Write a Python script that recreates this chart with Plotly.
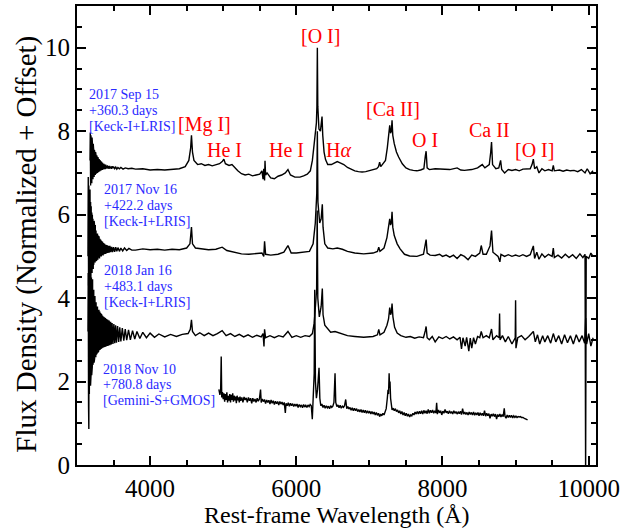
import plotly.graph_objects as go

# ---------------- data: (wavelength, flux) ----------------
spec_sep15 = [
    (3178, 7.30), (3182, 7.97), (3186, 6.70), (3190, 7.90), (3194, 6.80), (3198, 7.70), (3202, 6.75), (3206, 7.85),
    (3210, 6.95), (3214, 7.60), (3218, 6.85), (3222, 7.70), (3226, 6.95), (3230, 7.50), (3234, 6.90), (3238, 7.55),
    (3242, 7.00), (3246, 7.45), (3250, 6.95), (3254, 7.50), (3258, 7.05), (3262, 7.40), (3266, 6.98), (3270, 7.42),
    (3274, 7.05), (3278, 7.35), (3282, 7.00), (3286, 7.38), (3290, 7.06), (3294, 7.30), (3298, 7.02), (3302, 7.33),
    (3306, 7.08), (3310, 7.28), (3314, 7.04), (3318, 7.30), (3322, 7.08), (3326, 7.25), (3330, 7.06), (3334, 7.27),
    (3338, 7.09), (3342, 7.22), (3346, 7.07), (3350, 7.24), (3355, 7.10), (3360, 7.20), (3365, 7.08), (3370, 7.22),
    (3375, 7.10), (3380, 7.18), (3386, 7.09), (3392, 7.20), (3398, 7.11), (3404, 7.17), (3410, 7.10), (3417, 7.18),
    (3424, 7.11), (3431, 7.16), (3438, 7.10), (3446, 7.17), (3454, 7.11), (3462, 7.15), (3470, 7.10), (3480, 7.16),
    (3490, 7.11), (3500, 7.15), (3515, 7.10), (3530, 7.14), (3545, 7.09), (3560, 7.13), (3580, 7.10), (3600, 7.13),
    (3630, 7.09), (3660, 7.12), (3700, 7.10), (3750, 7.11), (3800, 7.09), (3900, 7.10), (4000, 7.07), (4100, 7.08),
    (4200, 7.07), (4300, 7.09), (4400, 7.10), (4480, 7.15), (4530, 7.30), (4555, 7.60), (4566, 7.90), (4580, 7.50),
    (4600, 7.30), (4650, 7.20), (4700, 7.22), (4750, 7.18), (4800, 7.20), (4850, 7.17), (4900, 7.20), (4950, 7.22),
    (4990, 7.28), (5009, 7.33), (5030, 7.22), (5080, 7.18), (5120, 7.20), (5160, 7.12), (5200, 7.05), (5250, 6.98),
    (5300, 6.95), (5350, 6.97), (5400, 6.93), (5450, 6.95), (5500, 6.97), (5530, 7.05), (5545, 6.85), (5555, 7.10),
    (5566, 6.82), (5572, 7.29), (5580, 6.95), (5600, 7.00), (5650, 6.88), (5700, 6.86), (5750, 6.92), (5800, 6.95),
    (5850, 7.00), (5886, 7.08), (5920, 6.95), (5980, 6.90), (6050, 6.90), (6100, 6.93), (6150, 6.97), (6192, 7.05),
    (6220, 7.30), (6245, 7.70), (6262, 8.00), (6275, 8.20), (6282, 8.60), (6288, 10.0), (6294, 8.60), (6310, 8.05),
    (6330, 8.00), (6345, 8.20), (6352, 8.35), (6362, 7.90), (6380, 7.50), (6400, 7.32), (6430, 7.20), (6480, 7.20),
    (6530, 7.25), (6560, 7.27), (6600, 7.24), (6650, 7.20), (6700, 7.13), (6750, 7.08), (6800, 7.05), (6850, 7.03),
    (6900, 7.02), (6950, 7.03), (7000, 7.05), (7050, 7.07), (7100, 7.10), (7125, 7.15), (7140, 7.26), (7155, 7.15),
    (7180, 7.20), (7220, 7.30), (7245, 7.60), (7265, 7.90), (7278, 8.14), (7290, 7.95), (7300, 8.00), (7310, 8.26),
    (7320, 7.90), (7340, 7.70), (7370, 7.50), (7400, 7.38), (7450, 7.22), (7500, 7.12), (7550, 7.08), (7600, 7.06),
    (7650, 7.05), (7700, 7.07), (7745, 7.10), (7765, 7.40), (7776, 7.52), (7790, 7.12), (7820, 7.08), (7900, 7.10),
    (8000, 7.09), (8100, 7.08), (8200, 7.12), (8250, 7.07), (8300, 7.06), (8400, 7.08), (8480, 7.12), (8520, 7.18),
    (8544, 7.20), (8580, 7.12), (8640, 7.20), (8660, 7.50), (8671, 7.74), (8685, 7.20), (8730, 7.10), (8770, 7.12),
    (8795, 7.30), (8810, 7.08), (8850, 7.00), (8900, 7.08), (8950, 7.06), (9000, 7.08), (9050, 7.05), (9100, 7.09),
    (9150, 7.10), (9200, 7.10), (9225, 7.20), (9243, 7.33), (9260, 7.10), (9290, 7.15), (9320, 7.00), (9360, 7.10),
    (9400, 7.05), (9450, 7.08), (9500, 7.05), (9516, 7.18), (9530, 7.05), (9600, 7.07), (9650, 7.04), (9700, 7.07),
    (9750, 7.05), (9800, 7.06), (9850, 7.03), (9900, 7.08), (9950, 7.00), (9980, 7.10), (10020, 6.98), (10060, 7.05),
]

spec_nov16 = [
    (3150, 5.00), (3154, 6.90), (3158, 4.30), (3162, 6.70), (3166, 4.40), (3170, 6.50), (3174, 4.35), (3178, 6.60),
    (3182, 4.55), (3186, 6.30), (3190, 4.50), (3194, 6.20), (3198, 4.65), (3202, 6.05), (3206, 4.60), (3210, 6.00),
    (3214, 4.75), (3218, 5.90), (3222, 4.70), (3226, 5.80), (3230, 4.80), (3234, 5.85), (3238, 4.82), (3242, 5.70),
    (3246, 4.85), (3250, 5.75), (3255, 4.88), (3260, 5.62), (3265, 4.90), (3270, 5.60), (3275, 4.93), (3280, 5.55),
    (3285, 4.92), (3290, 5.50), (3296, 4.97), (3302, 5.48), (3308, 4.95), (3314, 5.42), (3320, 5.00), (3326, 5.40),
    (3332, 5.00), (3338, 5.37), (3344, 5.03), (3350, 5.35), (3357, 5.02), (3364, 5.32), (3371, 5.05), (3378, 5.30),
    (3386, 5.06), (3394, 5.28), (3402, 5.07), (3410, 5.27), (3420, 5.08), (3430, 5.25), (3440, 5.09), (3450, 5.25),
    (3462, 5.10), (3474, 5.23), (3486, 5.10), (3500, 5.22), (3515, 5.11), (3530, 5.22), (3545, 5.12), (3560, 5.21),
    (3580, 5.12), (3600, 5.20), (3625, 5.13), (3650, 5.20), (3680, 5.14), (3710, 5.19), (3750, 5.15), (3800, 5.15),
    (3900, 5.18), (4000, 5.16), (4100, 5.17), (4200, 5.15), (4300, 5.17), (4400, 5.16), (4500, 5.20), (4545, 5.30),
    (4566, 5.70), (4580, 5.30), (4620, 5.20), (4700, 5.18), (4800, 5.16), (4900, 5.17), (4986, 5.22), (5050, 5.14),
    (5150, 5.10), (5250, 5.06), (5350, 5.05), (5450, 5.06), (5530, 5.08), (5555, 5.00), (5566, 5.36), (5580, 5.05),
    (5650, 5.03), (5750, 5.05), (5830, 5.10), (5886, 5.26), (5930, 5.08), (6000, 5.08), (6100, 5.10), (6180, 5.12),
    (6230, 5.30), (6260, 5.80), (6280, 6.50), (6288, 8.00), (6296, 6.30), (6320, 5.80), (6340, 5.90), (6356, 6.25),
    (6366, 5.70), (6390, 5.30), (6430, 5.20), (6500, 5.18), (6560, 5.20), (6630, 5.17), (6700, 5.12), (6800, 5.08),
    (6922, 5.06), (7050, 5.08), (7110, 5.12), (7128, 5.22), (7145, 5.12), (7200, 5.20), (7240, 5.45), (7262, 5.70),
    (7278, 5.90), (7290, 5.75), (7300, 5.80), (7310, 6.07), (7320, 5.70), (7340, 5.50), (7380, 5.30), (7420, 5.18),
    (7480, 5.05), (7550, 5.01), (7650, 5.00), (7740, 5.05), (7765, 5.30), (7776, 5.40), (7790, 5.08), (7830, 5.03),
    (7900, 5.02), (7960, 5.05), (8000, 5.00), (8050, 5.03), (8100, 4.98), (8150, 5.03), (8200, 4.95), (8250, 5.04),
    (8300, 5.00), (8350, 4.92), (8400, 5.03), (8450, 5.00), (8510, 5.08), (8530, 5.26), (8555, 5.05), (8600, 5.05),
    (8650, 5.25), (8671, 5.62), (8690, 5.10), (8720, 5.05), (8760, 5.00), (8785, 4.87), (8800, 5.05), (8850, 5.00),
    (8900, 5.04), (8950, 5.00), (9000, 5.03), (9050, 5.00), (9100, 5.04), (9150, 5.00), (9200, 5.04), (9243, 5.25),
    (9260, 4.95), (9290, 5.10), (9320, 4.93), (9360, 5.06), (9400, 4.98), (9450, 5.05), (9500, 5.00), (9516, 5.20),
    (9530, 4.97), (9580, 5.03), (9630, 4.96), (9680, 5.05), (9730, 4.97), (9780, 5.04), (9830, 4.95), (9880, 5.06),
    (9920, 4.97), (9950, 5.05), (9958, -0.20), (9966, 5.00), (10000, 4.95), (10030, 5.08), (10060, 5.00),
]

spec_jan16 = [
    (3150, 3.20), (3154, 4.60), (3158, 1.40), (3162, 0.86), (3165, 4.80), (3169, 1.70), (3173, 4.90), (3177, 2.00),
    (3181, 4.70), (3185, 1.90), (3189, 4.65), (3193, 2.20), (3197, 4.50), (3201, 2.15), (3205, 4.40), (3209, 2.35),
    (3213, 4.45), (3217, 2.40), (3221, 4.25), (3225, 2.50), (3229, 4.20), (3233, 2.45), (3237, 4.10), (3241, 2.55),
    (3245, 4.05), (3249, 2.60), (3253, 3.95), (3257, 2.58), (3261, 3.90), (3265, 2.65), (3270, 3.85), (3275, 2.68),
    (3280, 3.80), (3285, 2.70), (3290, 3.75), (3295, 2.72), (3300, 3.72), (3306, 2.75), (3312, 3.68), (3318, 2.76),
    (3324, 3.64), (3330, 2.78), (3336, 3.62), (3342, 2.80), (3348, 3.58), (3355, 2.81), (3362, 3.56), (3369, 2.82),
    (3376, 3.54), (3383, 2.83), (3390, 3.52), (3398, 2.84), (3406, 3.50), (3414, 2.85), (3422, 3.48), (3430, 2.86),
    (3440, 3.46), (3450, 2.87), (3460, 3.43), (3470, 2.89), (3480, 3.40), (3492, 2.90), (3504, 3.38), (3516, 2.92),
    (3528, 3.35), (3540, 2.93), (3555, 3.33), (3570, 2.95), (3585, 3.30), (3600, 2.96), (3620, 3.28), (3640, 2.98),
    (3660, 3.26), (3680, 2.99), (3705, 3.24), (3730, 3.00), (3760, 3.22), (3790, 3.02), (3820, 3.20), (3860, 3.03),
    (3900, 3.18), (3950, 3.05), (4000, 3.16), (4060, 3.06), (4120, 3.14), (4200, 3.07), (4280, 3.13), (4360, 3.08),
    (4440, 3.13), (4520, 3.15), (4550, 3.25), (4566, 3.48), (4580, 3.20), (4620, 3.10), (4680, 3.17), (4740, 3.10),
    (4800, 3.16), (4860, 3.10), (4920, 3.15), (4986, 3.22), (5040, 3.10), (5100, 3.15), (5160, 3.08), (5220, 3.13),
    (5280, 3.07), (5340, 3.12), (5400, 3.06), (5460, 3.11), (5520, 3.07), (5545, 3.15), (5558, 2.84), (5566, 3.25),
    (5580, 3.05), (5640, 3.10), (5700, 3.05), (5760, 3.10), (5820, 3.07), (5886, 3.20), (5940, 3.06), (6000, 3.10),
    (6060, 3.06), (6120, 3.10), (6180, 3.08), (6220, 3.15), (6245, 3.40), (6265, 3.80), (6278, 4.20), (6286, 6.10),
    (6294, 4.00), (6315, 3.55), (6340, 3.80), (6356, 4.23), (6366, 3.60), (6390, 3.35), (6420, 3.28), (6470, 3.18),
    (6530, 3.20), (6600, 3.16), (6700, 3.10), (6800, 3.08), (6922, 3.06), (7050, 3.08), (7110, 3.12), (7128, 3.25),
    (7145, 3.12), (7200, 3.18), (7240, 3.35), (7262, 3.50), (7278, 3.77), (7290, 3.60), (7300, 3.65), (7310, 3.87),
    (7322, 3.55), (7345, 3.30), (7380, 3.16), (7430, 3.10), (7500, 3.06), (7560, 3.08), (7620, 3.04), (7680, 3.07),
    (7740, 3.05), (7765, 3.22), (7776, 3.32), (7790, 3.05), (7820, 3.00), (7860, 3.08), (7900, 2.95), (7950, 3.07),
    (8000, 3.03), (8050, 3.08), (8100, 3.02), (8150, 3.07), (8200, 3.00), (8240, 3.06), (8260, 2.78), (8280, 3.05),
    (8310, 2.85), (8330, 3.06), (8360, 2.73), (8380, 3.04), (8400, 2.80), (8425, 3.05), (8450, 2.90), (8480, 3.08),
    (8510, 3.05), (8530, 3.20), (8555, 3.05), (8600, 3.10), (8640, 3.05), (8671, 3.26), (8690, 3.00), (8740, 3.10),
    (8775, 3.05), (8781, 3.63), (8787, 3.00), (8820, 3.10), (8860, 2.95), (8900, 3.08), (8950, 2.90), (8995, 3.05),
    (9000, 3.95), (9005, 2.80), (9030, 3.05), (9080, 3.10), (9130, 3.00), (9180, 3.08), (9243, 3.20), (9270, 2.95),
    (9300, 3.12), (9330, 2.90), (9370, 3.10), (9400, 2.95), (9440, 3.10), (9480, 2.92), (9516, 3.15), (9550, 2.95),
    (9590, 3.10), (9630, 2.90), (9670, 3.12), (9710, 2.93), (9750, 3.10), (9790, 2.90), (9830, 3.12), (9870, 2.95),
    (9910, 3.10), (9945, 2.92), (9959, 3.52), (9972, 2.90), (10000, 3.15), (10030, 2.85), (10060, 3.05),
]

spec_nov10 = [
    (4941, 1.81), (4955, 1.68), (4965, 1.78), (4973, 2.60), (4980, 1.62), (4990, 1.75), (5000, 1.58), (5010, 1.72),
    (5020, 1.52), (5030, 1.70), (5040, 1.56), (5050, 1.74), (5060, 1.50), (5070, 1.66), (5080, 1.54), (5090, 1.70),
    (5100, 1.50), (5110, 1.68), (5120, 1.56), (5130, 1.72), (5140, 1.52), (5150, 1.66), (5160, 1.55), (5170, 1.64),
    (5180, 1.48), (5190, 1.66), (5200, 1.55), (5210, 1.62), (5220, 1.50), (5230, 1.64), (5240, 1.54), (5255, 1.62),
    (5270, 1.50), (5285, 1.63), (5300, 1.56), (5315, 1.61), (5330, 1.50), (5345, 1.62), (5360, 1.54), (5375, 1.60),
    (5390, 1.48), (5405, 1.60), (5420, 1.52), (5435, 1.58), (5450, 1.50), (5465, 1.60), (5480, 1.53), (5495, 1.58),
    (5511, 1.81), (5520, 1.50), (5535, 1.58), (5550, 1.52), (5565, 1.57), (5580, 1.47), (5595, 1.56), (5610, 1.50),
    (5625, 1.55), (5640, 1.46), (5655, 1.56), (5670, 1.48), (5685, 1.54), (5700, 1.45), (5715, 1.53), (5730, 1.47),
    (5745, 1.52), (5760, 1.44), (5775, 1.52), (5790, 1.46), (5805, 1.51), (5820, 1.44), (5835, 1.50), (5850, 1.25),
    (5860, 1.48), (5875, 1.42), (5890, 1.49), (5905, 1.41), (5920, 1.48), (5935, 1.42), (5950, 1.47), (5965, 1.40),
    (5980, 1.46), (5995, 1.41), (6010, 1.46), (6025, 1.38), (6040, 1.45), (6055, 1.40), (6070, 1.44), (6085, 1.37),
    (6100, 1.45), (6115, 1.39), (6130, 1.43), (6145, 1.38), (6160, 1.44), (6175, 1.40), (6190, 1.45), (6205, 1.42),
    (6219, 1.10), (6235, 1.60), (6245, 2.20), (6252, 4.20), (6262, 2.00), (6275, 1.60), (6290, 1.80), (6311, 2.33),
    (6322, 1.60), (6335, 1.42), (6350, 1.46), (6365, 1.38), (6380, 1.43), (6395, 1.36), (6410, 1.42), (6425, 1.37),
    (6440, 1.41), (6455, 1.35), (6470, 1.42), (6485, 1.38), (6500, 1.41), (6515, 1.50), (6530, 2.20), (6540, 1.50),
    (6555, 1.40), (6570, 1.44), (6585, 1.37), (6600, 1.43), (6615, 1.36), (6630, 1.41), (6645, 1.38), (6660, 1.42),
    (6676, 1.57), (6690, 1.35), (6705, 1.40), (6720, 1.34), (6735, 1.38), (6750, 1.31), (6765, 1.37), (6780, 1.30),
    (6795, 1.36), (6810, 1.30), (6825, 1.35), (6840, 1.28), (6855, 1.33), (6870, 1.27), (6885, 1.33), (6900, 1.26),
    (6915, 1.32), (6930, 1.25), (6945, 1.31), (6960, 1.24), (6975, 1.30), (6990, 1.24), (7005, 1.29), (7020, 1.22),
    (7035, 1.28), (7050, 1.22), (7065, 1.27), (7080, 1.20), (7095, 1.26), (7110, 1.19), (7125, 1.24), (7140, 1.16),
    (7155, 1.22), (7170, 1.18), (7185, 1.24), (7200, 1.20), (7215, 1.28), (7230, 1.35), (7245, 1.60), (7255, 1.80),
    (7262, 1.70), (7270, 2.20), (7276, 1.85), (7282, 2.00), (7290, 1.60), (7300, 1.45), (7310, 1.32), (7325, 1.36),
    (7340, 1.30), (7355, 1.35), (7370, 1.28), (7385, 1.32), (7400, 1.25), (7415, 1.30), (7430, 1.22), (7445, 1.28),
    (7460, 1.20), (7475, 1.26), (7490, 1.18), (7505, 1.24), (7520, 1.17), (7535, 1.22), (7550, 1.15), (7566, 1.20),
    (7580, 1.18), (7595, 1.24), (7610, 1.20), (7625, 1.27), (7640, 1.22), (7655, 1.28), (7670, 1.22), (7685, 1.29),
    (7700, 1.23), (7715, 1.30), (7730, 1.22), (7745, 1.31), (7760, 1.24), (7775, 1.30), (7790, 1.23), (7805, 1.33),
    (7820, 1.24), (7835, 1.31), (7850, 1.25), (7865, 1.32), (7880, 1.24), (7895, 1.30), (7910, 1.25), (7920, 1.49),
    (7930, 1.22), (7945, 1.32), (7960, 1.25), (7975, 1.30), (7990, 1.20), (8005, 1.29), (8020, 1.24), (8035, 1.33),
    (8050, 1.25), (8065, 1.29), (8080, 1.23), (8095, 1.30), (8110, 1.24), (8125, 1.28), (8140, 1.22), (8155, 1.30),
    (8170, 1.24), (8185, 1.28), (8200, 1.22), (8215, 1.27), (8230, 1.23), (8245, 1.29), (8260, 1.21), (8275, 1.35),
    (8290, 1.22), (8305, 1.27), (8320, 1.21), (8335, 1.26), (8350, 1.20), (8365, 1.27), (8380, 1.21), (8395, 1.26),
    (8410, 1.20), (8425, 1.27), (8440, 1.19), (8455, 1.25), (8470, 1.20), (8485, 1.26), (8500, 1.18), (8515, 1.25),
    (8530, 1.19), (8545, 1.24), (8560, 1.18), (8575, 1.30), (8590, 1.17), (8605, 1.24), (8620, 1.18), (8635, 1.23),
    (8650, 1.12), (8665, 1.22), (8680, 1.17), (8695, 1.23), (8710, 1.16), (8725, 1.22), (8740, 1.10), (8755, 1.21),
    (8770, 1.16), (8785, 1.22), (8800, 1.15), (8815, 1.21), (8830, 1.16), (8845, 1.36), (8855, 1.17), (8870, 1.12),
    (8885, 1.20), (8900, 1.14), (8915, 1.19), (8930, 1.14), (8945, 1.19), (8960, 1.13), (8975, 1.18), (8990, 1.14),
    (9005, 1.17), (9020, 1.14), (9035, 1.16), (9050, 1.15), (9065, 1.16), (9080, 1.14), (9100, 1.14), (9120, 1.12),
    (9140, 1.10), (9164, 1.08),
]

epoch_labels = [
    ["2017 Sep 15", "+360.3 days", "[Keck-I+LRIS]"],
    ["2017 Nov 16", "+422.2 days", "[Keck-I+LRIS]"],
    ["2018 Jan 16", "+483.1 days", "[Keck-I+LRIS]"],
    ["2018 Nov 10", "+780.8 days", "[Gemini-S+GMOS]"],
]
line_names = ["[O I]", "[Mg I]", "He I", "He I", "H<i>α</i>", "[Ca II]", "O I", "Ca II", "[O I]"]

x_ticks = [4000, 6000, 8000, 10000]
y_ticks = [0, 2, 4, 6, 8, 10]

# ---------------- figure ----------------
SERIF = "Liberation Serif, Times New Roman, serif"
fig = go.Figure()
for spec in [spec_sep15, spec_nov16, spec_jan16, spec_nov10]:
    fig.add_trace(go.Scatter(x=[p[0] for p in spec], y=[p[1] for p in spec], mode="lines",
                             line=dict(color="black", width=1.4),
                             showlegend=False, hoverinfo="skip"))

# epoch labels (left aligned, three lines each)
label_pos = [(3151, [8.88, 8.50, 8.12]),
             (3356, [6.60, 6.22, 5.84]),
             (3356, [4.65, 4.27, 3.89]),
             (3342, [2.30, 1.92, 1.54])]
for lines, (lx, lys) in zip(epoch_labels, label_pos):
    for txt, ly in zip(lines, lys):
        fig.add_annotation(x=lx, y=ly, text=txt, showarrow=False, xanchor="left", yanchor="middle",
                           borderpad=0, font=dict(family=SERIF, size=14, color="#2a2aff"))

# line identifications
line_pos = [(6329, 10.28), (4740, 8.16), (5021, 7.56), (5863, 7.56), (6575, 7.56),
            (7322, 8.54), (7767, 7.80), (8644, 8.04), (9260, 7.56)]
for txt, (lx, ly) in zip(line_names, line_pos):
    fig.add_annotation(x=lx, y=ly, text=txt, showarrow=False, xanchor="center", yanchor="middle",
                       borderpad=0, font=dict(family=SERIF, size=20, color="#ff0000"))

# axis titles
PLOT_H = 529 - 4 - 64
fig.add_annotation(xref="paper", yref="paper", x=-50 / 519, y=0.48, text="Flux Density (Normalized + Offset)",
                   textangle=-90, showarrow=False, xanchor="center", yanchor="middle", borderpad=0,
                   font=dict(family=SERIF, size=29, color="black"))
fig.add_annotation(xref="paper", yref="paper", x=0.5, y=-63.8 / PLOT_H, text="Rest-frame Wavelength (Å)",
                   showarrow=False, xanchor="center", yanchor="bottom", borderpad=0,
                   font=dict(family=SERIF, size=24, color="black"))

axis_common = dict(showline=True, linecolor="black", linewidth=2, mirror="ticks",
                   ticks="inside", ticklen=9, tickwidth=2, tickcolor="black",
                   showgrid=False, zeroline=False,
                   tickfont=dict(family=SERIF, size=25, color="black"))
fig.update_xaxes(range=[3000, 10100], tickvals=x_ticks, ticktext=[str(v) for v in x_ticks],
                 minor=dict(dtick=500, tick0=0, ticks="inside", ticklen=5, tickwidth=1.5, tickcolor="black"),
                 **axis_common)
fig.update_yaxes(range=[0, 11], tickvals=y_ticks, ticktext=[str(v) for v in y_ticks],
                 minor=dict(dtick=0.5, tick0=0, ticks="inside", ticklen=5, tickwidth=1.5, tickcolor="black"),
                 **axis_common)
fig.update_layout(width=644, height=529, margin=dict(l=77, r=48, t=4, b=64),
                  plot_bgcolor="white", paper_bgcolor="white")
fig.write_html("out.html")
